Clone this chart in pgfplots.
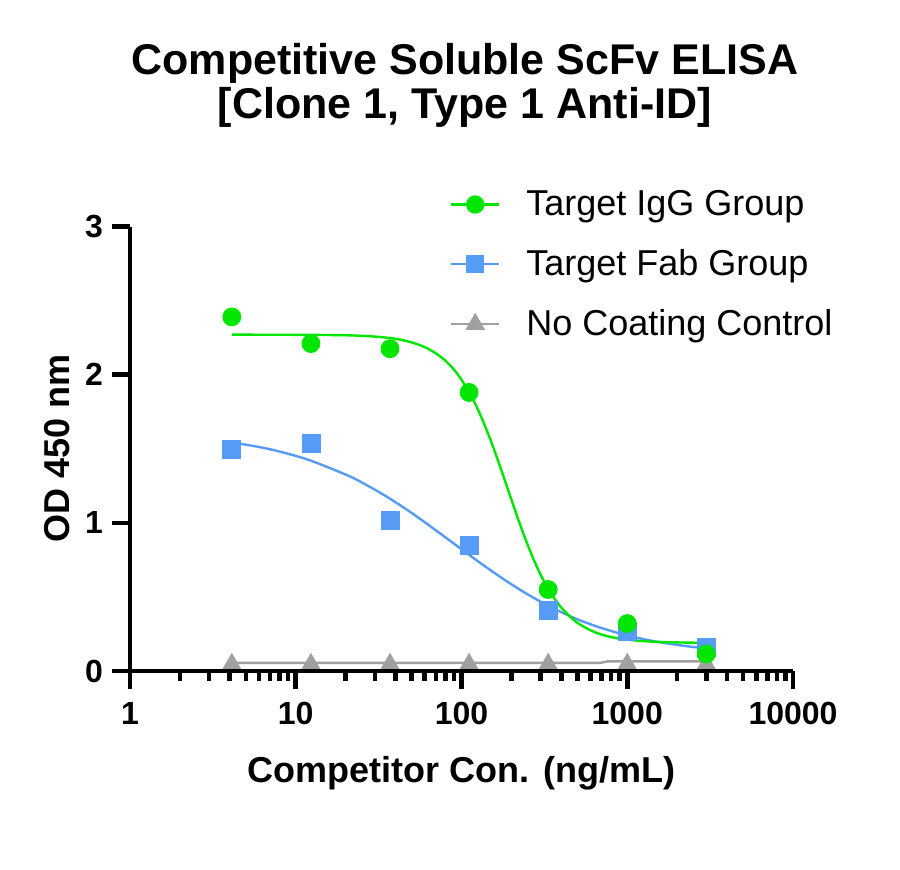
\documentclass[border=0pt]{standalone}
\usepackage{pgfplots}
\pgfplotsset{compat=1.18}
\usepackage{fontspec}
\setmainfont{Liberation Sans}

\definecolor{igg}{RGB}{0,230,0}
\definecolor{fab}{RGB}{86,155,245}
\definecolor{ctrl}{RGB}{160,160,160}

\begin{document}
\begin{tikzpicture}
\path[use as bounding box] (-65pt,-99pt) rectangle (385pt,335.5pt);
\begin{axis}[
    scale only axis,
    width=331.5pt, height=222.25pt,
    xmode=log,
    xmin=1, xmax=10000,
    ymin=0, ymax=3,
    axis x line=bottom, axis y line=left,
    axis line style={-, line width=2.3pt},
    every tick/.style={black, line width=2.3pt},
    tick align=outside,
    major tick length=9pt,
    minor tick length=5pt,
    xtick={1,10,100,1000,10000},
    xticklabels={1,10,100,1000,10000},
    ytick={0,1,2,3},
    yticklabels={0,1,2,3},
    tick label style={font=\fontsize{16}{19}\selectfont\bfseries},
    xticklabel style={yshift=-3pt},
    yticklabel style={xshift=-1pt},
    xlabel={Competitor Con. (ng/mL)},
    ylabel={OD 450 nm},
    every axis x label/.style={at={(axis description cs:0.5,-0.2295)}, anchor=center,
        font=\fontsize{18}{21}\selectfont\bfseries},
    every axis y label/.style={at={(axis description cs:-0.11,0.5)}, rotate=90, anchor=center,
        font=\fontsize{18}{21}\selectfont\bfseries},
    title={Competitive Soluble ScFv ELISA\\{}[Clone 1, Type 1 Anti-ID]},
    title style={font=\fontsize{21.5}{22}\selectfont\bfseries, align=center,
        at={(axis description cs:0.505,1.29)}, anchor=center},
    clip=false,
    legend style={draw=none, fill=none, at={(axis description cs:0.473,1.10)},
        anchor=north west, font=\fontsize{18}{21}\selectfont,
        row sep=11.5pt, nodes={inner sep=2pt},
        /tikz/every odd column/.append style={column sep=11pt}},
    legend cell align=left,
    legend image code/.code={%
        \draw[mark repeat=2,mark phase=2,#1] plot coordinates {(0pt,0pt) (12pt,0pt) (24pt,0pt)};},
]
% legend entries
\addlegendimage{igg, line width=1.2pt, mark=*, mark size=4pt, mark options={solid, fill=igg, draw=igg}}
\addlegendentry{Target IgG Group}
\addlegendimage{fab, line width=1.2pt, mark=square*, mark size=4pt, mark options={solid, fill=fab, draw=fab}}
\addlegendentry{Target Fab Group}
\addlegendimage{ctrl, line width=1.2pt, mark=triangle*, mark size=4.5pt, mark options={solid, fill=ctrl, draw=ctrl}}
\addlegendentry{No Coating Control}

% fitted curves
\addplot[forget plot, ctrl, line width=1.2pt, no markers] coordinates {
    (4.115,0.055) (690,0.055) (760,0.065) (3000,0.065)
};
\addplot[forget plot, fab, line width=1.2pt, no markers, smooth] coordinates {
    (4.115,1.543) (6,1.512) (8,1.481) (12.1,1.423) (20,1.326) (25,1.273)
    (35,1.18) (50,1.067) (73,0.935) (110,0.788) (140,0.703) (185,0.61)
    (250,0.518) (327,0.445) (400,0.397) (510,0.345) (700,0.29) (1000,0.24)
    (1500,0.198) (2200,0.17) (3000,0.152)
};
\addplot[forget plot, igg, line width=1.2pt, no markers, smooth] coordinates {
    (4.115,2.27) (10,2.269) (20,2.266) (30,2.257) (40,2.242) (50,2.218)
    (60,2.186) (70,2.144) (80,2.094) (90,2.034) (100,1.966) (115,1.852)
    (130,1.728) (150,1.557) (170,1.388) (190,1.23) (215,1.055) (240,0.907)
    (270,0.763) (300,0.651) (340,0.539) (400,0.428) (500,0.326) (650,0.258)
    (850,0.223) (1200,0.203) (1800,0.194) (3000,0.19)
};

% measured points
\addplot[forget plot, only marks, mark=triangle*, mark size=5pt, ctrl] coordinates {
    (4.115,0.05) (12.35,0.05) (37.04,0.05) (111.1,0.05) (333.3,0.05) (1000,0.05) (3000,0.05)
};
\addplot[forget plot, only marks, mark=square*, mark size=4.5pt, fab] coordinates {
    (4.115,1.496) (12.35,1.537) (37.04,1.015) (111.1,0.85) (333.3,0.41) (1000,0.27) (3000,0.16)
};
\addplot[forget plot, only marks, mark=*, mark size=4.5pt, igg] coordinates {
    (4.115,2.39) (12.35,2.21) (37.04,2.175) (111.1,1.88) (333.3,0.55) (1000,0.32) (3000,0.115)
};
\end{axis}
\end{tikzpicture}
\end{document}
